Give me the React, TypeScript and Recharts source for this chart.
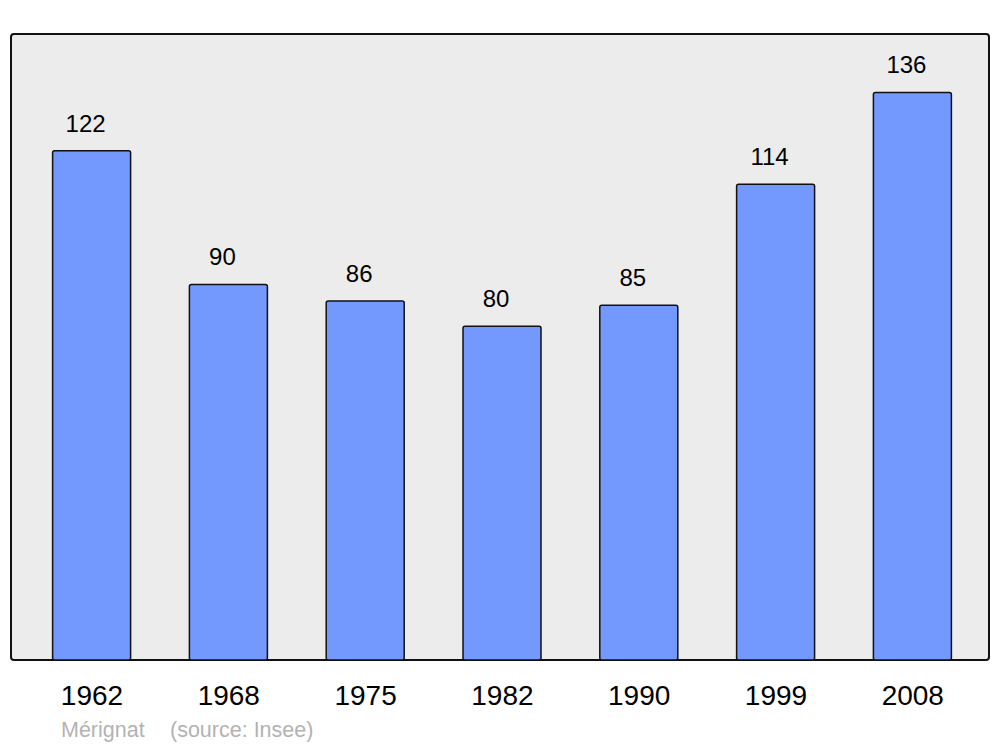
import React from "react";
import { BarChart, Bar, XAxis, YAxis, LabelList } from "recharts";

const years = ["1962", "1968", "1975", "1982", "1990", "1999", "2008"];
const population = [122, 90, 86, 80, 85, 114, 136];
const commune = "Mérignat";
const source = "(source: Insee)";

const data = years.map((y, i) => ({ year: y, value: population[i] }));

const FONT = "'Liberation Sans', Arial, sans-serif";

const captionStyle: React.CSSProperties = {
  position: "absolute",
  top: 718,
  fontSize: 21.5,
  color: "#b3b3b3",
  whiteSpace: "pre",
  lineHeight: "24px",
};

export default function App() {
  return (
    <div style={{ position: "absolute", left: 0, top: 0, width: 1000, height: 747, background: "#fff", fontFamily: FONT }}>
      <div
        style={{
          position: "absolute",
          left: 10,
          top: 33,
          width: 976,
          height: 624,
          background: "#ececec",
          border: "2.5px solid #111",
          borderRadius: 4,
        }}
      />
      <div style={{ position: "absolute", left: 0, top: 0 }}>
        <BarChart
          width={1000}
          height={747}
          data={data}
          margin={{ top: 34, right: 11, bottom: 0, left: 11 }}
        >
          <XAxis
            dataKey="year"
            axisLine={false}
            tickLine={false}
            tickSize={0}
            tickMargin={25}
            height={87}
            padding={{ left: 12.6, right: 7.8 }}
            interval={0}
            tick={{ fontSize: 28, fill: "#000", fontFamily: FONT }}
          />
          <YAxis hide domain={[0, 150]} />
          <Bar
            dataKey="value"
            fill="#7399ff"
            stroke="#111"
            strokeWidth={1.5}
            barSize={78}
            radius={2}
            isAnimationActive={false}
          >
            <LabelList
              dataKey="value"
              position="top"
              offset={19}
              dx={-6}
              style={{ fontSize: 24, fill: "#000", fontFamily: FONT }}
            />
          </Bar>
        </BarChart>
      </div>
      <div style={{ ...captionStyle, left: 61 }}>{commune}</div>
      <div style={{ ...captionStyle, left: 170 }}>{source}</div>
    </div>
  );
}
